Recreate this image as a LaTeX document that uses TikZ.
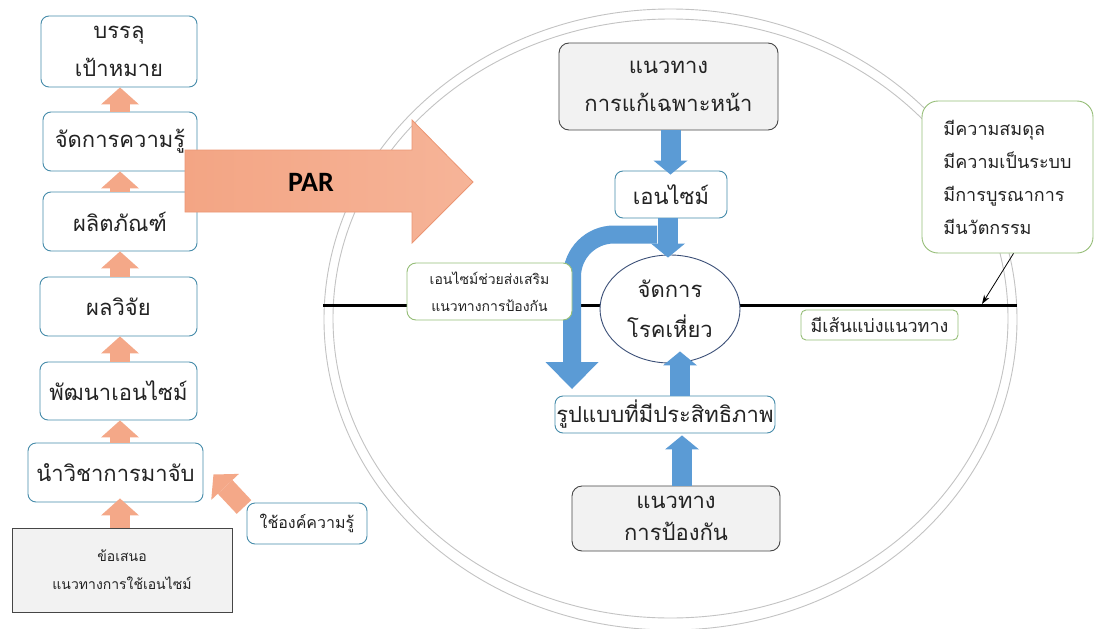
\documentclass[tikz,border=0pt]{standalone}
\usepackage{fontspec}
\newfontfamily\thai[Script=Thai]{Loma}
\newfontfamily\calib{Carlito}
\usetikzlibrary{arrows.meta,shapes.geometric}
\definecolor{boxblue}{RGB}{70,140,170}
\definecolor{salmon}{RGB}{244,168,136}
\definecolor{salmonL}{RGB}{246,180,152}
\definecolor{salmonM}{RGB}{243,165,132}
\definecolor{salmonD}{RGB}{236,150,115}
\definecolor{arrblue}{RGB}{91,155,213}
\definecolor{pgreen}{RGB}{150,190,120}
\definecolor{gfill}{RGB}{242,242,242}
\definecolor{gdraw}{RGB}{70,70,70}
\definecolor{elldraw}{RGB}{60,80,120}
\definecolor{ringc}{RGB}{195,195,195}
\definecolor{txt}{RGB}{35,35,35}
\tikzset{
  bigtxt/.style={font=\thai\fontsize{22}{38}\selectfont},
  lbox/.style={draw=boxblue, line width=0.9pt, rounded corners=8pt, fill=white, text=txt, inner sep=0pt, align=center, bigtxt},
  gbox/.style={draw=gdraw, line width=0.9pt, rounded corners=10pt, fill=gfill, text=txt, inner sep=0pt, align=center, bigtxt},
  grbox/.style={draw=pgreen, line width=0.9pt, rounded corners=9pt, fill=white, text=txt, inner sep=0pt},
  sarr/.style={draw=salmon, line width=20pt, -{Triangle[length=17pt,width=38pt,line width=0pt]}},
  barr/.style={draw=arrblue, line width=20pt, -{Triangle[length=14pt,width=34pt,line width=0pt]}},
  ring/.style={draw=ringc, line width=0.9pt}
}
\begin{document}
\begin{tikzpicture}[x=1pt,y=-1pt]
\path[fill=white] (0,0) rectangle (1095,629);
\useasboundingbox (0,0) rectangle (1095,629);
% rings
\draw[ring] (670.5,319.5) ellipse [x radius=346.5, y radius=310.5];
\draw[ring] (670.5,318.5) ellipse [x radius=337.5, y radius=299.5];
% dividing line
\coordinate (L1) at (323,305);
\coordinate (L2) at (1017,305);
\coordinate (Lp) at (982,304);
\draw[line width=3pt, black] (L1) -- (L2);
% curved blue arrow
\coordinate (cstart) at (657,234.5);
\coordinate (ctip) at (572,389);
\draw[draw=arrblue, line width=18pt, rounded corners=42pt, -{Triangle[length=27pt,width=53pt,line width=0pt]}] (cstart) -| (ctip);
% left column
\node[lbox, minimum width=156pt, minimum height=71pt] (goal) at (119,51.5) {บรรลุ\\เป้าหมาย};
\node[lbox, minimum width=154pt, minimum height=59pt] (km) at (120,141.5) {จัดการความรู้};
\node[lbox, minimum width=154pt, minimum height=59pt] (prod) at (120,221.5) {ผลิตภัณฑ์};
\node[lbox, minimum width=157pt, minimum height=59pt] (res) at (118.5,306.5) {ผลวิจัย};
\node[lbox, minimum width=157pt, minimum height=58pt] (dev) at (118.5,391) {พัฒนาเอนไซม์};
\node[lbox, minimum width=175pt, minimum height=59pt] (apply) at (115.5,472.5) {นำวิชาการมาจับ};
\node[draw=gdraw, line width=0.9pt, fill=gfill, text=txt, inner sep=0pt, align=center, font=\thai\fontsize{14}{28}\selectfont, minimum width=220pt, minimum height=84pt] (prop) at (122,570) {ข้อเสนอ\\แนวทางการใช้เอนไซม์};
\node[lbox, font=\thai\fontsize{16}{20}\selectfont, minimum width=120pt, minimum height=41pt] (know) at (307,523.5) {ใช้องค์ความรู้};
% centre
\node[gbox, minimum width=219pt, minimum height=87pt] (quick) at (668.5,86.5) {แนวทาง\\การแก้เฉพาะหน้า};
\node[lbox, minimum width=112pt, minimum height=47pt] (enz) at (671,194.5) {เอนไซม์};
\node[ellipse, draw=elldraw, line width=0.9pt, fill=white, text=txt, inner sep=0pt, align=center, font=\thai\fontsize{22}{40}\selectfont, minimum width=140pt, minimum height=108pt] (manage) at (670,309) {จัดการ\\โรคเหี่ยว};
\node[lbox, minimum width=220pt, minimum height=37pt] (model) at (665,414.5) {รูปแบบที่มีประสิทธิภาพ};
\node[gbox, font=\thai\fontsize{22}{32}\selectfont, minimum width=208pt, minimum height=65pt] (prev) at (676,518.5) {แนวทาง\\การป้องกัน};
\node[grbox, align=center, font=\thai\fontsize{14}{27}\selectfont, minimum width=165pt, minimum height=57pt] (promo) at (489.5,291.5) {เอนไซม์ช่วยส่งเสริม\\แนวทางการป้องกัน};
\node[grbox, align=left, font=\thai\fontsize{18}{33}\selectfont, minimum width=171pt, minimum height=152pt, rounded corners=16pt] (attr) at (1007.5,177) {มีความสมดุล\\มีความเป็นระบบ\\มีการบูรณาการ\\มีนวัตกรรม};
\node[grbox, rounded corners=5pt, font=\thai\fontsize{18}{20}\selectfont, minimum width=157pt, minimum height=30pt] (divl) at (879.5,325) {มีเส้นแบ่งแนวทาง};
% salmon arrows (left column)
\draw[sarr] (km.north) -- (km.north |- goal.south);
\draw[sarr] (prod.north) -- (prod.north |- km.south);
\draw[sarr] ([xshift=1.5pt]res.north) -- ([xshift=1.5pt]res.north |- prod.south);
\draw[sarr] ([xshift=1.5pt]dev.north) -- ([xshift=1.5pt]dev.north |- res.south);
\draw[sarr] ([xshift=4.5pt]apply.north) -- ([xshift=4.5pt]apply.north |- dev.south);
\draw[sarr] ([xshift=-2pt]prop.north) -- ([xshift=-2pt,yshift=4pt]prop.north |- apply.south);
\coordinate (ktail) at (244,507);
\draw[sarr] (ktail) -- ([xshift=10pt,yshift=-2pt]apply.east);
% blue arrows
\draw[barr] ([xshift=2pt]quick.south) -- ([xshift=2pt,yshift=-4pt]quick.south |- enz.north);
\draw[barr] ([xshift=-3pt]enz.south) -- ([xshift=-3pt,yshift=-3pt]enz.south |- manage.north);
\draw[barr] ([xshift=15pt]model.north) -- ([xshift=15pt,yshift=12pt]model.north |- manage.south);
\draw[barr] ([xshift=6pt]prev.north) -- ([xshift=6pt,yshift=-2pt]prev.north |- model.south);
% thin arrow to line
\draw[line width=0.8pt, -{Stealth[length=9pt,width=6pt]}] ([xshift=6pt]attr.south) -- (Lp);
% PAR arrow
\path[draw=salmonD, line width=0.8pt, left color=salmonM, right color=salmonL]
  (185,150) -- (412,150) -- (412,120) -- (473,182) -- (412,243) -- (412,212) -- (185,212) -- cycle;
\node[font=\calib\bfseries\fontsize{28}{30}\selectfont, text=black] (par) at (311,182) {PAR};
\end{tikzpicture}
\end{document}
